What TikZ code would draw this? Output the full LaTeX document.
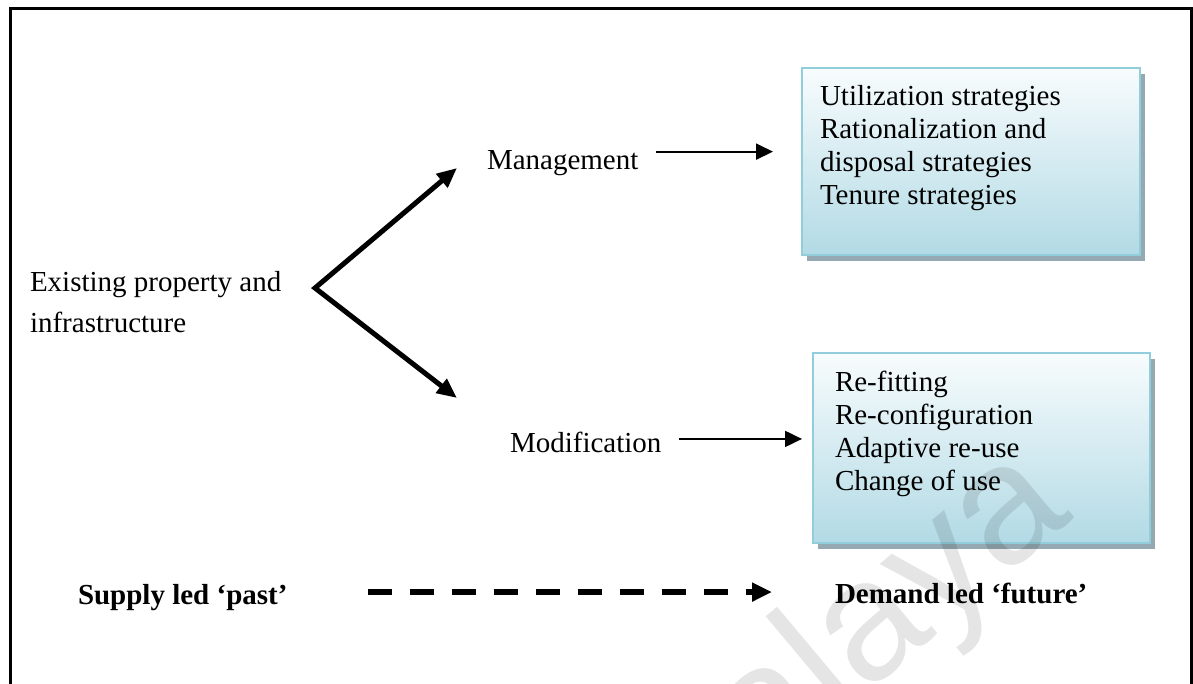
\documentclass[tikz,border=0pt]{standalone}
\usepackage{fontspec}
\setmainfont{Liberation Serif}
\setsansfont{Liberation Sans}
\usetikzlibrary{arrows.meta,calc,shadows}
\definecolor{boxedge}{HTML}{92CDDC}
\definecolor{boxtop}{HTML}{F8FCFD}
\definecolor{boxbottom}{HTML}{B2DAE5}
\definecolor{boxshadow}{HTML}{94A9B2}
\begin{document}
\begin{tikzpicture}[x=1pt,y=-1pt,
  every node/.style={inner sep=0pt,outer sep=0pt},
  txt/.style={font=\fontsize{29}{33}\selectfont,anchor=base west},
  boldtxt/.style={txt,font=\fontsize{29}{33}\selectfont\bfseries},
  stratbox/.style={draw=boxedge,line width=2.5pt,top color=boxtop,bottom color=boxbottom,
    anchor=north west,drop shadow={shadow xshift=5pt,shadow yshift=-6pt,fill=boxshadow,opacity=1}},
  forkline/.style={line width=5pt,line join=miter,{Triangle[length=20pt,width=17pt]}-{Triangle[length=20pt,width=17pt]}},
  thinarrow/.style={line width=2pt,-{Triangle[length=17pt,width=16pt]}},
  dasharrow/.style={line width=6pt,dash pattern=on 24pt off 18pt,-{Triangle[length=20pt,width=18pt]}}]
\useasboundingbox (0,0) rectangle (1193,684);
\clip (0,0) rectangle (1193,684);
% outer frame (runs past the lower edge)
\draw[line width=3pt] (10,9) rectangle (1191,730);

% labels
\node[txt] (exist) at (30,292) {\parbox[t]{300pt}{\fontsize{29}{40}\selectfont\raggedright Existing property and\\infrastructure}};
\node[txt] (mgmt) at (487,170) {Management};
\node[txt] (modif) at (510,452) {Modification};

% strategy boxes
\node[stratbox,minimum width=338pt,minimum height=187pt] (mbox) at (802,68) {};
\node[stratbox,minimum width=337pt,minimum height=190pt] (dbox) at (813,353) {};
\node[txt] (mlist) at ($(mbox.north west)+(18,38)$) {\parbox[t]{318pt}{\raggedright Utilization strategies\\Rationalization and\\disposal strategies\\Tenure strategies}};
\node[txt] (dlist) at ($(dbox.north west)+(22,38.5)$) {\parbox[t]{312pt}{\raggedright Re-fitting\\Re-configuration\\Adaptive re-use\\Change of use}};

% bottom line
\node[boldtxt] (supply) at (78,604) {Supply led ‘past’};
\node[boldtxt] (demand) at (835,603) {Demand led ‘future’};

% fork from the existing stock
\coordinate (fork) at ($(exist.base west)+(285,-4)$);
\coordinate (mtip) at ($(mgmt.base west)+(-30,-2)$);
\coordinate (dtip) at ($(modif.base west)+(-53,-54)$);
\draw[forkline] (mtip) -- (fork) -- (dtip);

% connectors to the boxes
\draw[thinarrow] ($(mgmt.east)+(18,-12)$) -- ($(mgmt.east -| mbox.west)+(-29,-12)$);
\draw[thinarrow] ($(modif.east)+(18,-3)$) -- ($(modif.east -| dbox.west)+(-11,-3)$);
\draw[dasharrow] ($(supply.east)+(80,-5)$) -- ($(supply.east -| demand.west)+(-63,-5)$);

% repository watermark
\node[rotate=40,anchor=base east,font=\fontsize{170}{170}\sffamily,text=black,opacity=0.1] (wm) at (1075,518) {Malaya};
\end{tikzpicture}
\end{document}
